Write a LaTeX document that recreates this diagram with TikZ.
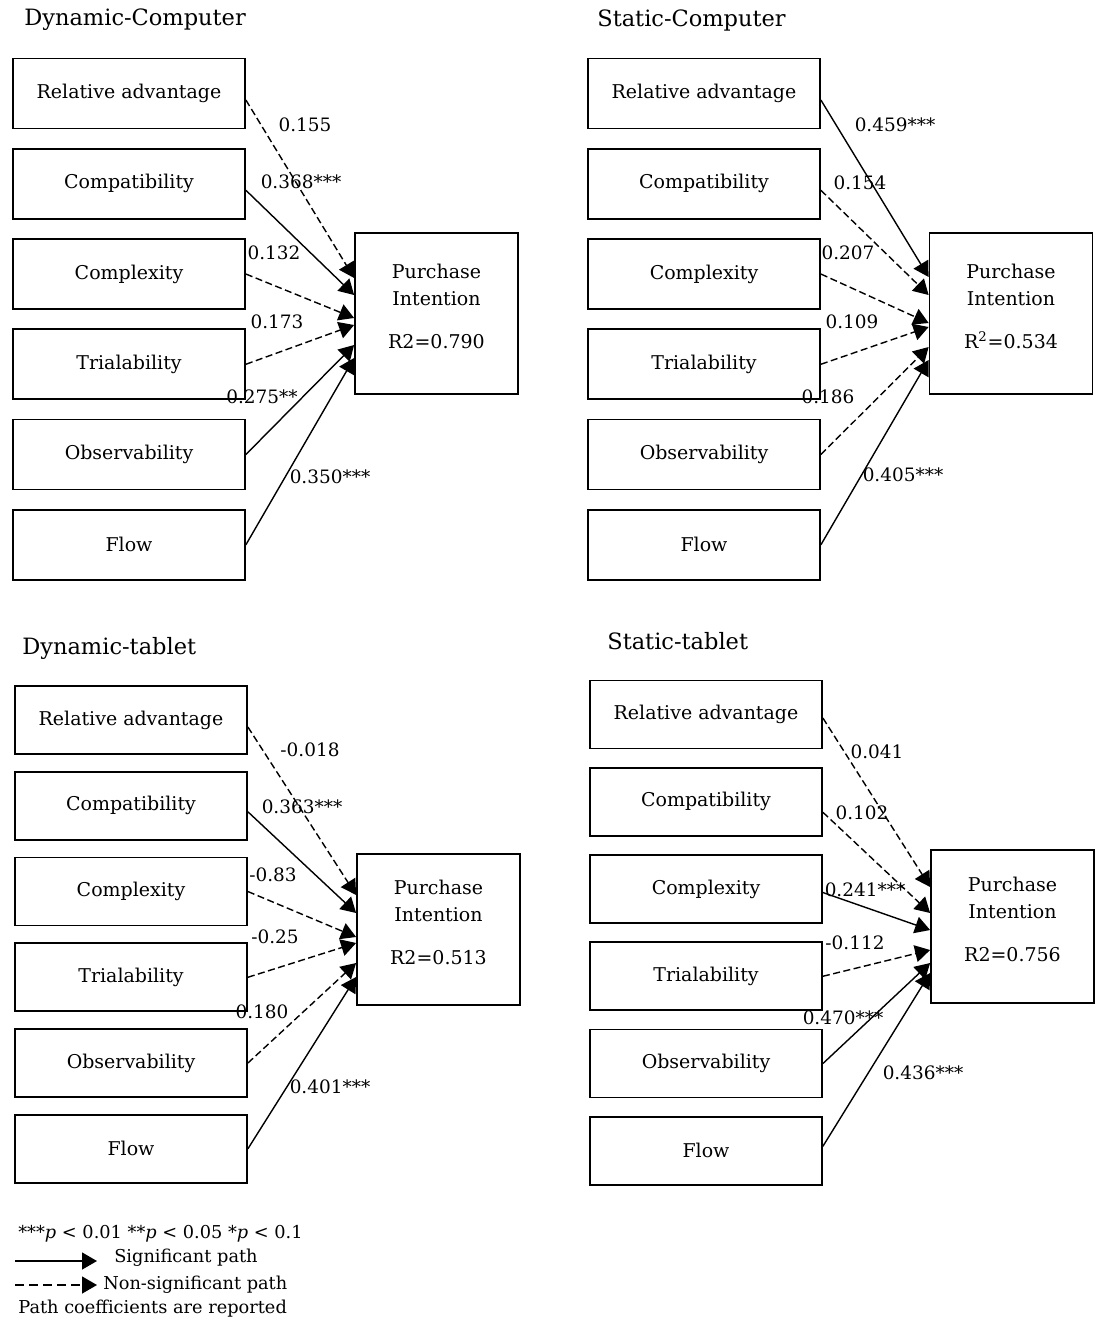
\documentclass[tikz,border=0pt]{standalone}
\usepackage{fontspec}
\setmainfont{DejaVu Serif}
\usetikzlibrary{arrows.meta,positioning}

\begin{document}
\begin{tikzpicture}[
    x=0.2mm, y=-0.2mm,
    node distance=3.7mm,
    box/.style={draw,line width=1pt,minimum width=46.4mm,minimum height=14mm,inner sep=0pt,font=\fontsize{10.8}{12}\selectfont},
    pibox/.style={draw,line width=1pt,minimum width=32.6mm,minimum height=32.2mm,align=center,text depth=8pt,font=\fontsize{10.8}{15.5}\selectfont},
    heading/.style={anchor=west,inner sep=0pt,font=\fontsize{12.8}{15}\selectfont},
    coef/.style={inner sep=0pt,font=\fontsize{10.5}{12}\selectfont},
    note/.style={inner sep=0pt,font=\fontsize{10.1}{11}\selectfont},
    arrow/.style={-{Triangle[length=3mm,width=3.4mm]},line width=0.8pt},
    dasharrow/.style={arrow,dash pattern=on 4pt off 2pt}
  ]
    \useasboundingbox (0,0) rectangle (1099,1321);

    % Dynamic-Computer
    \node[heading] (dctitle) at (24,20) {Dynamic-Computer};
    \node[box] (dcra) at (129,93.5) {Relative advantage};
    \node[box,below=of dcra] (dccomp) {Compatibility};
    \node[box,below=of dccomp] (dccplx) {Complexity};
    \node[box,below=of dccplx] (dctrial) {Trialability};
    \node[box,below=of dctrial] (dcobs) {Observability};
    \node[box,below=of dcobs] (dcflow) {Flow};
    \node[pibox] (dcpi) at (436.5,313.5) {Purchase\\Intention\\[9pt]R2=0.790};

    \draw[dasharrow] ([yshift=-1.3mm]dcra.east) -- ([yshift=7.1mm]dcpi.west);
    \draw[arrow] ([yshift=-1.3mm]dccomp.east) -- ([yshift=3.7mm]dcpi.west);
    \draw[dasharrow] (dccplx.east) -- ([yshift=-0.9mm]dcpi.west);
    \draw[dasharrow] (dctrial.east) -- ([yshift=-2.3mm]dcpi.west);
    \draw[arrow] (dcobs.east) -- ([yshift=-6.3mm]dcpi.west);
    \draw[arrow] (dcflow.east) -- ([yshift=-8.9mm]dcpi.west);

    \node[coef] (dcv1) at (305,125) {0.155};
    \node[coef] (dcv2) at (301,182) {0.368***};
    \node[coef] (dcv3) at (274,253) {0.132};
    \node[coef] (dcv4) at (277,322) {0.173};
    \node[coef] (dcv5) at (262,397) {0.275**};
    \node[coef] (dcv6) at (330,477) {0.350***};

    % Static-Computer
    \node[heading] (sctitle) at (597,20) {Static-Computer};
    \node[box] (scra) at (704,93.5) {Relative advantage};
    \node[box,below=of scra] (sccomp) {Compatibility};
    \node[box,below=of sccomp] (sccplx) {Complexity};
    \node[box,below=of sccplx] (sctrial) {Trialability};
    \node[box,below=of sctrial] (scobs) {Observability};
    \node[box,below=of scobs] (scflow) {Flow};
    \node[pibox] (scpi) at (1011,313.5) {Purchase\\Intention\\[9pt]R\textsuperscript{2}=0.534};

    \draw[arrow] ([yshift=-1.3mm]scra.east) -- ([yshift=7.3mm]scpi.west);
    \draw[dasharrow] ([yshift=-1.3mm]sccomp.east) -- ([yshift=3.7mm]scpi.west);
    \draw[dasharrow] (sccplx.east) -- ([yshift=-1.9mm]scpi.west);
    \draw[dasharrow] (sctrial.east) -- ([yshift=-2.7mm]scpi.west);
    \draw[dasharrow] (scobs.east) -- ([yshift=-6.7mm]scpi.west);
    \draw[arrow] (scflow.east) -- ([yshift=-9.3mm]scpi.west);

    \node[coef] (scv1) at (895,125) {0.459***};
    \node[coef] (scv2) at (860,183) {0.154};
    \node[coef] (scv3) at (848,253) {0.207};
    \node[coef] (scv4) at (852,322) {0.109};
    \node[coef] (scv5) at (828,397) {0.186};
    \node[coef] (scv6) at (903,475) {0.405***};

    % Dynamic-tablet
    \node[heading] (dttitle) at (22,648) {Dynamic-tablet};
    \node[box,minimum height=13.6mm] (dtra) at (131,720) {Relative advantage};
    \node[box,minimum height=13.6mm,below=3.2mm of dtra] (dtcomp) {Compatibility};
    \node[box,minimum height=13.6mm,below=3.2mm of dtcomp] (dtcplx) {Complexity};
    \node[box,minimum height=13.6mm,below=3.2mm of dtcplx] (dttrial) {Trialability};
    \node[box,minimum height=13.6mm,below=3.2mm of dttrial] (dtobs) {Observability};
    \node[box,minimum height=13.6mm,below=3.2mm of dtobs] (dtflow) {Flow};
    \node[pibox,minimum height=30.2mm] (dtpi) at (438.5,929.5) {Purchase\\Intention\\[9pt]R2=0.513};

    \draw[dasharrow] ([yshift=-1.4mm]dtra.east) -- ([yshift=6.9mm]dtpi.west);
    \draw[arrow] ([yshift=-1.2mm]dtcomp.east) -- ([yshift=3.3mm]dtpi.west);
    \draw[dasharrow] (dtcplx.east) -- ([yshift=-1.5mm]dtpi.west);
    \draw[dasharrow] (dttrial.east) -- ([yshift=-2.7mm]dtpi.west);
    \draw[dasharrow] (dtobs.east) -- ([yshift=-6.7mm]dtpi.west);
    \draw[arrow] (dtflow.east) -- ([yshift=-9.5mm]dtpi.west);

    \node[coef] (dtv1) at (310,750) {-0.018};
    \node[coef] (dtv2) at (302,807) {0.363***};
    \node[coef] (dtv3) at (273,875) {-0.83};
    \node[coef] (dtv4) at (275,937) {-0.25};
    \node[coef] (dtv5) at (262,1012) {0.180};
    \node[coef] (dtv6) at (330,1087) {0.401***};

    % Static-tablet
    \node[heading] (sttitle) at (607,641) {Static-tablet};
    \node[box,minimum height=13.6mm] (stra) at (706,714.5) {Relative advantage};
    \node[box,minimum height=13.6mm,below=3.5mm of stra] (stcomp) {Compatibility};
    \node[box,minimum height=13.6mm,below=3.5mm of stcomp] (stcplx) {Complexity};
    \node[box,minimum height=13.6mm,below=3.5mm of stcplx] (sttrial) {Trialability};
    \node[box,minimum height=13.6mm,below=3.5mm of sttrial] (stobs) {Observability};
    \node[box,minimum height=13.6mm,below=3.5mm of stobs] (stflow) {Flow};
    \node[pibox,minimum height=30.6mm] (stpi) at (1012.5,926.5) {Purchase\\Intention\\[9pt]R2=0.756};

    \draw[dasharrow] ([yshift=-0.7mm]stra.east) -- ([yshift=7.9mm]stpi.west);
    \draw[dasharrow] ([yshift=-2.1mm]stcomp.east) -- ([yshift=2.7mm]stpi.west);
    \draw[arrow] ([yshift=-0.7mm]stcplx.east) -- ([yshift=-0.7mm]stpi.west);
    \draw[dasharrow] (sttrial.east) -- ([yshift=-4.7mm]stpi.west);
    \draw[arrow] (stobs.east) -- ([yshift=-7.3mm]stpi.west);
    \draw[arrow] ([yshift=0.9mm]stflow.east) -- ([yshift=-9.3mm]stpi.west);

    \node[coef] (stv1) at (877,752) {0.041};
    \node[coef] (stv2) at (862,813) {0.102};
    \node[coef] (stv3) at (865,890) {0.241***};
    \node[coef] (stv4) at (855,943) {-0.112};
    \node[coef] (stv5) at (843,1018) {0.470***};
    \node[coef] (stv6) at (923,1073) {0.436***};

    % legend
    \node[note,anchor=west] (pnote) at (18,1234) {***\textit{p} < 0.01 **\textit{p} < 0.05 *\textit{p} < 0.1};
    \coordinate (sig0) at (15,1261);
    \coordinate (sig1) at (97,1261);
    \draw[arrow] (sig0) -- (sig1);
    \node[note] (signote) at (186,1258) {Significant path};
    \coordinate (nsig0) at (15,1285);
    \coordinate (nsig1) at (97,1285);
    \draw[dasharrow,dash pattern=on 5pt off 3pt] (nsig0) -- (nsig1);
    \node[note,anchor=west] (nsignote) at (103,1285) {Non-significant path};
    \node[note,anchor=west] (cnote) at (18,1309) {Path coefficients are reported};
  \end{tikzpicture}
\end{document}
